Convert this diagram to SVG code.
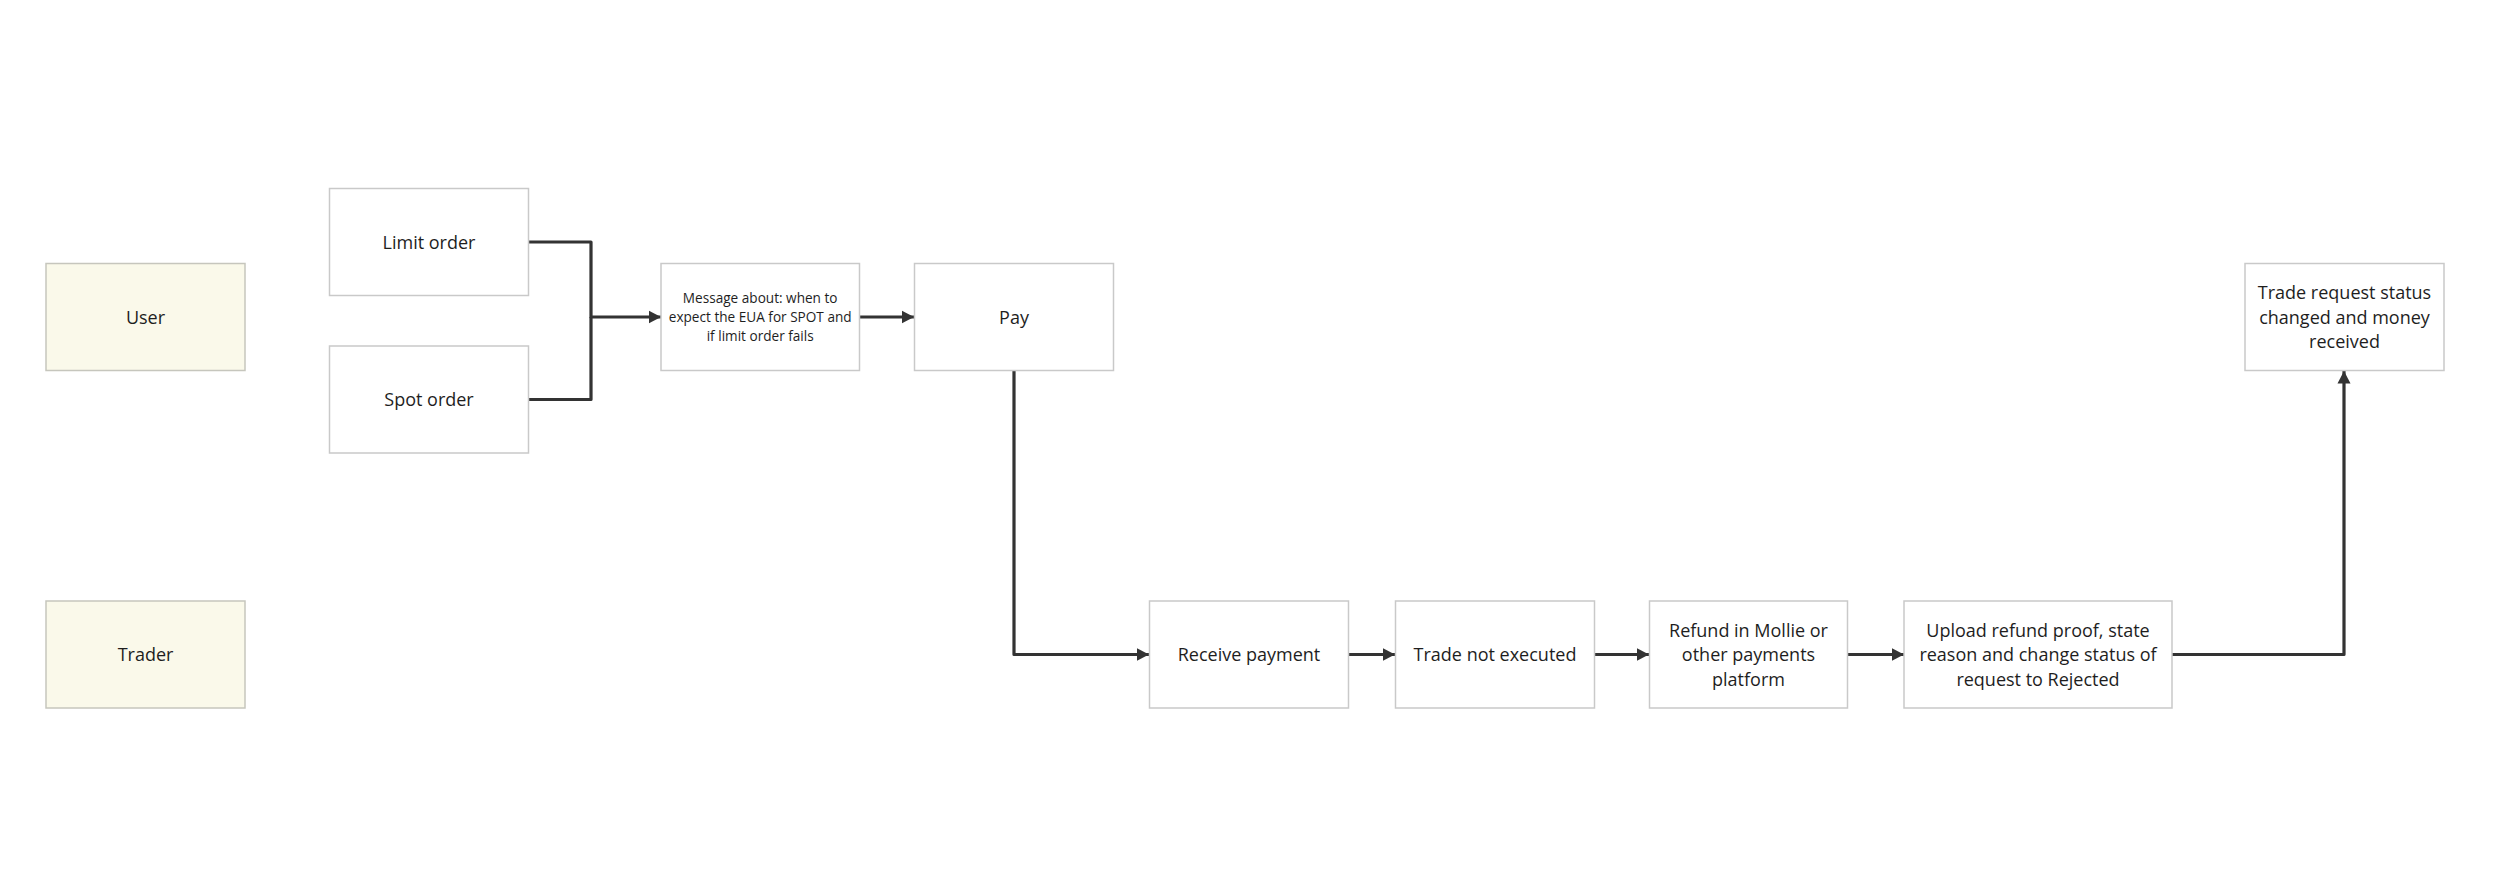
<svg xmlns="http://www.w3.org/2000/svg" width="2500" height="890" viewBox="0 0 2500 890">
<defs>
<style>
.box{fill:#ffffff;stroke:#c9c9c9;stroke-width:1.5}
.actor{fill:#faf9ea;stroke:#c6c6bd;stroke-width:1.5}
.t{font-family:"Open Sans","Noto Sans",sans-serif;font-size:18px;fill:#1e1e1e;text-anchor:middle}
.s{font-family:"Open Sans","Noto Sans",sans-serif;font-size:13.6px;fill:#1e1e1e;text-anchor:middle}
.c{fill:none;stroke:#333333;stroke-width:3.2;stroke-linejoin:round}
</style>
<marker id="ah" markerUnits="userSpaceOnUse" markerWidth="14" markerHeight="14" viewBox="0 0 14 14" refX="12.5" refY="7" orient="auto">
<path d="M0,0.5 L12.5,7 L0,13.5 z" fill="#333333"/>
</marker>
</defs>
<rect width="2500" height="890" fill="#ffffff"/>
<g id="connectors">
<path class="c" d="M528.5,242 H591 V317 H661" marker-end="url(#ah)"/>
<path class="c" d="M528.5,399.5 H591 V317"/>
<path class="c" d="M859.5,317 H914" marker-end="url(#ah)"/>
<path class="c" d="M1014,371 V654.5 H1149" marker-end="url(#ah)"/>
<path class="c" d="M1348,654.5 H1395" marker-end="url(#ah)"/>
<path class="c" d="M1594,654.5 H1649" marker-end="url(#ah)"/>
<path class="c" d="M1848,654.5 H1904" marker-end="url(#ah)"/>
<path class="c" d="M2172,654.5 H2344 V371" marker-end="url(#ah)"/>
</g>
<g id="user">
<rect class="actor" x="46" y="263.5" width="199" height="107"/>
<text class="t" x="145.5" y="323.5">User</text>
</g>
<g id="trader">
<rect class="actor" x="46" y="601" width="199" height="107"/>
<text class="t" x="145.5" y="661">Trader</text>
</g>
<g id="limit-order">
<rect class="box" x="329.5" y="188.5" width="199" height="107"/>
<text class="t" x="429" y="248.5">Limit order</text>
</g>
<g id="spot-order">
<rect class="box" x="329.5" y="346" width="199" height="107"/>
<text class="t" x="429" y="406">Spot order</text>
</g>
<g id="message">
<rect class="box" x="661" y="263.5" width="198.5" height="107"/>
<text class="s" x="760.2" y="303.3">Message about: when to</text>
<text class="s" x="760.2" y="321.9">expect the EUA for SPOT and</text>
<text class="s" x="760.2" y="340.5">if limit order fails</text>
</g>
<g id="pay">
<rect class="box" x="914.5" y="263.5" width="199" height="107"/>
<text class="t" x="1014" y="323.5">Pay</text>
</g>
<g id="receive-payment">
<rect class="box" x="1149.5" y="601" width="199" height="107"/>
<text class="t" x="1249" y="661">Receive payment</text>
</g>
<g id="trade-not-executed">
<rect class="box" x="1395.5" y="601" width="199" height="107"/>
<text class="t" x="1495" y="661">Trade not executed</text>
</g>
<g id="refund">
<rect class="box" x="1649.5" y="601" width="198" height="107"/>
<text class="t" x="1748.5" y="636.5">Refund in Mollie or</text>
<text class="t" x="1748.5" y="661">other payments</text>
<text class="t" x="1748.5" y="685.5">platform</text>
</g>
<g id="upload-refund">
<rect class="box" x="1904" y="601" width="268" height="107"/>
<text class="t" x="2038" y="636.5">Upload refund proof, state</text>
<text class="t" x="2038" y="661">reason and change status of</text>
<text class="t" x="2038" y="685.5">request to Rejected</text>
</g>
<g id="trade-request-status">
<rect class="box" x="2245" y="263.5" width="199" height="107"/>
<text class="t" x="2344.5" y="299">Trade request status</text>
<text class="t" x="2344.5" y="323.5">changed and money</text>
<text class="t" x="2344.5" y="348">received</text>
</g>
</svg>
